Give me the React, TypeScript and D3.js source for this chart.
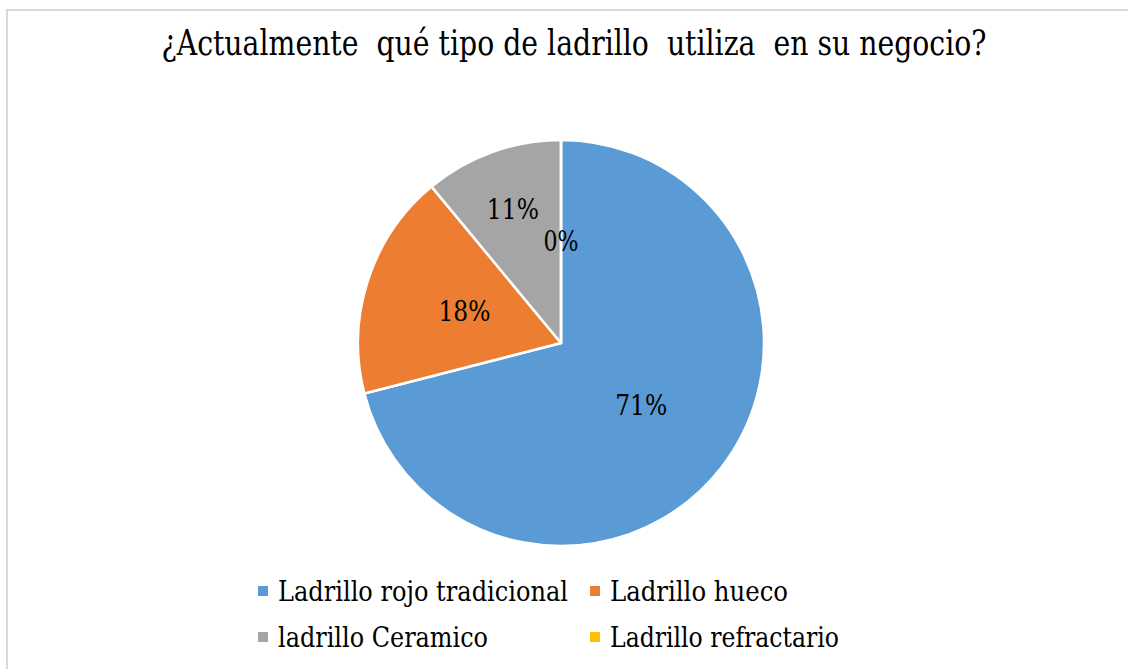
import React from "react";
import * as d3 from "d3";

const categories = [
  "Ladrillo rojo tradicional",
  "Ladrillo hueco",
  "ladrillo Ceramico",
  "Ladrillo refractario",
];
const values = [71, 18, 11, 0];
const colors = ["#5B9BD5", "#ED7D31", "#A5A5A5", "#FFC000"];
const title = "¿Actualmente  qué tipo de ladrillo  utiliza  en su negocio?";
const legendWidths = [290, 178, 210, 229];

const W = 1128;
const H = 669;
const cx = 561;
const cy = 343;
const R = 203;
const FONT = "'DejaVu Serif', serif";

export default function App() {
  const pie = d3
    .pie<number>()
    .sort(null)
    .value((d) => d)
    .startAngle(0)
    .endAngle(2 * Math.PI);
  const arcs = pie(values);
  const arc = d3.arc<d3.PieArcDatum<number>>().innerRadius(0).outerRadius(R);
  const total = d3.sum(values);

  const labelPos = (a: d3.PieArcDatum<number>) => {
    const frac = a.data / total;
    const lr = frac > 0 && frac < 0.15 ? R * 0.7 : R * 0.5;
    return d3
      .arc<d3.PieArcDatum<number>>()
      .innerRadius(lr)
      .outerRadius(lr)
      .centroid(a);
  };

  const legendCols = [258, 590];
  const legendRows = [591, 637];

  return (
    <svg
      width={W}
      height={H}
      style={{ position: "absolute", left: 0, top: 0, background: "#fff", fontFamily: FONT }}
    >
      <rect x={0} y={0} width={W} height={H} fill="#fff" />
      <rect
        x={7}
        y={10}
        width={W + 50}
        height={H + 50}
        fill="none"
        stroke="#d9d9d9"
        strokeWidth={2}
      />
      <g transform={`translate(${W / 2 + 10},55) scale(1,1.2)`}>
        <text
          x={0}
          y={0}
          textAnchor="middle"
          fontSize={30}
          fill="#000"
          textLength={825}
          lengthAdjust="spacingAndGlyphs"
          style={{ whiteSpace: "pre", fontFamily: FONT }}
        >
          {title}
        </text>
      </g>
      <g transform={`translate(${cx},${cy})`}>
        {arcs.map((a, i) => (
          <path
            key={i}
            d={arc(a) || ""}
            fill={colors[i]}
            stroke="#fff"
            strokeWidth={2.5}
            strokeLinejoin="round"
          />
        ))}
        {arcs.map((a, i) => {
          const [x, y] = labelPos(a);
          const s = `${Math.round((a.data / total) * 100)}%`;
          return (
            <text
              key={"l" + i}
              x={x}
              y={y}
              dy="0.35em"
              textAnchor="middle"
              fontSize={27}
              fill="#000"
              textLength={s.length === 3 ? 52 : 35}
              lengthAdjust="spacingAndGlyphs"
              style={{ fontFamily: FONT }}
            >
              {s}
            </text>
          );
        })}
      </g>
      {categories.map((c, i) => {
        const x = legendCols[i % 2];
        const y = legendRows[Math.floor(i / 2)];
        return (
          <g key={"lg" + i}>
            <rect x={x} y={y - 5} width={10} height={10} fill={colors[i]} />
            <text
              x={x + 20}
              y={y}
              dy="0.35em"
              fontSize={28}
              fill="#000"
              textLength={legendWidths[i]}
              lengthAdjust="spacingAndGlyphs"
              style={{ fontFamily: FONT }}
            >
              {c}
            </text>
          </g>
        );
      })}
    </svg>
  );
}
